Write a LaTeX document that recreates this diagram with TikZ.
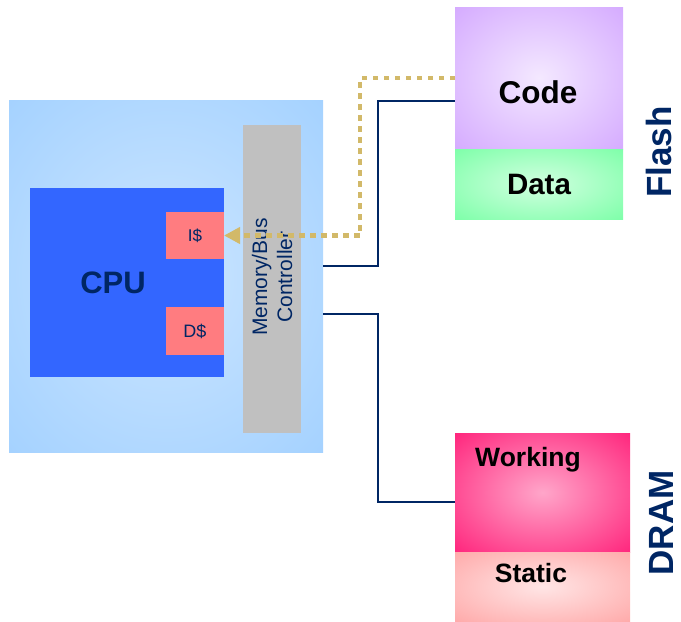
\documentclass[tikz,border=0pt]{standalone}
\usepackage{fontspec}
\setmainfont{Liberation Sans}
\usetikzlibrary{arrows.meta}

\definecolor{navy}{RGB}{0,38,100}
\definecolor{sky}{RGB}{153,204,255}
\definecolor{chip}{RGB}{51,102,255}
\definecolor{cache}{RGB}{255,124,128}
\definecolor{ctrl}{RGB}{192,192,192}
\definecolor{gold}{RGB}{210,185,105}
\definecolor{codecol}{RGB}{204,153,255}
\definecolor{datacol}{RGB}{102,255,153}
\definecolor{workcol}{RGB}{255,0,102}
\definecolor{statcol}{RGB}{255,153,153}

% soft glow from the middle of a box
\colorlet{glowin}{white}
\colorlet{glowout}{white}
\pgfdeclareradialshading[glowin,glowout]{glow}{\pgfpoint{0bp}{0bp}}%
  {color(0bp)=(glowin); color(46bp)=(glowout); color(80bp)=(glowout)}

\tikzset{
  box/.style={inner sep=0pt, outer sep=0pt, draw=none},
  glowbox/.style 2 args={box, shading=glow,
    /utils/exec={\colorlet{glowin}{#1}\colorlet{glowout}{#2}}},
  big/.style={font=\fontsize{31.5}{34}\selectfont\bfseries},
  mid/.style={font=\fontsize{29.5}{32}\selectfont\bfseries},
  small/.style={font=\fontsize{26.5}{30}\selectfont\bfseries},
  side/.style={text=navy, rotate=90, inner sep=1pt, font=\fontsize{35}{40}\selectfont\bfseries},
  bus/.style={navy, line width=2.2pt},
  fetch/.style={gold, line width=4.5pt, dash pattern=on 5.5pt off 5.5pt,
    -{Triangle[length=16pt,width=16pt]}}
}

\begin{document}
\begin{tikzpicture}[x=1pt,y=-1pt]
\useasboundingbox (0,0) rectangle (681,622);

% processor board
\node[glowbox={sky!50!white}{sky}, minimum width=314pt, minimum height=352pt] (board) at (166,276) {};
\node[box, fill=chip, minimum width=194pt, minimum height=189pt] (cpu) at (127,282.5) {};
\node[text=navy, font=\fontsize{31}{34}\selectfont\bfseries] (cpulabel) at (113,283) {CPU};
\node[box, fill=cache, minimum width=58pt, minimum height=47pt, text=navy, font=\fontsize{17}{20}\selectfont] (icache) at (195,235.5) {I\$};
\node[box, fill=cache, minimum width=58pt, minimum height=48pt, text=navy, font=\fontsize{18}{20}\selectfont] (dcache) at (195,331) {D\$};
\node[box, fill=ctrl, minimum width=58pt, minimum height=308pt] (ctrl) at (272,279) {};
\node[text=navy, rotate=90, align=center, font=\fontsize{21}{25}\selectfont] (ctrllabel) at (272,277) {Memory/Bus\\Controller};

% flash
\node[glowbox={codecol!22!white}{codecol}, minimum width=168pt, minimum height=142pt] (code) at (539,78) {};
\node[big] (codelabel) at (538,92) {Code};
\node[glowbox={datacol!30!white}{datacol}, minimum width=168pt, minimum height=70pt, mid] (data) at (539,184) {Data};
\node[side] (flash) at (659,152) {Flash};

% dram
\node[glowbox={workcol!35!white}{workcol}, minimum width=175pt, minimum height=119pt] (working) at (542.5,492.5) {};
\node[small] (worklabel) at (528,460) {Working};
\node[glowbox={statcol!25!white}{statcol}, minimum width=175pt, minimum height=69pt] (static) at (542.5,586.5) {};
\node[small] (statlabel) at (531,573) {Static};
\node[side] (dram) at (661,523) {DRAM};

% buses
\draw[bus] (board.east |- 0,266) -| (378,101) -- (code.west |- 0,101);
\draw[bus] (board.east |- 0,314) -| (378,502) -- (working.west |- 0,502);

% instruction fetch path
\draw[fetch] (code.west) -| (360,235.5) -- (icache.east);
\end{tikzpicture}
\end{document}
